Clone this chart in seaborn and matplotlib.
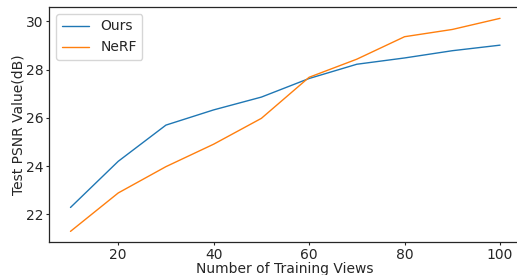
import matplotlib
matplotlib.use("Agg")
import matplotlib.pyplot as plt
import seaborn as sns
import pandas as pd

views = [10, 20, 30, 40, 50, 60, 70, 80, 90, 100]
ours = [22.29, 24.20, 25.70, 26.33, 26.86, 27.63, 28.22, 28.48, 28.78, 29.01]
nerf = [21.30, 22.89, 23.98, 24.91, 25.98, 27.68, 28.43, 29.36, 29.66, 30.12]
series_names = ["Ours", "NeRF"]
colors = ["#1f77b4", "#ff7f0e"]

df = pd.DataFrame({
    "views": views * 2,
    "psnr": ours + nerf,
    "method": [series_names[0]] * len(views) + [series_names[1]] * len(views),
})

sns.set_style("ticks")
plt.rcParams["font.family"] = ["DejaVu Sans"]

fs = 10
fig = plt.figure(figsize=(5.17, 2.75), dpi=100)
ax = fig.add_axes([49 / 517, 1 - 242 / 275, (521.5 - 49) / 517, (242 - 7) / 275])
sns.lineplot(data=df, x="views", y="psnr", hue="method", palette=colors,
             linewidth=1.0, ax=ax)
ax.set_xlabel("Number of Training Views", fontsize=fs, labelpad=0)
ax.set_ylabel("Test PSNR Value(dB)", fontsize=fs, labelpad=0.5)
ax.tick_params(labelsize=fs, length=2.5, width=0.8, pad=1.5, color="#262626")
for s in ax.spines.values():
    s.set_color("#262626")
    s.set_linewidth(0.9)
ax.set_xticks([20, 40, 60, 80, 100])
ax.set_yticks([22, 24, 26, 28, 30])
ax.set_xlim(5.5, 104.5)
ax.set_ylim(20.86, 30.59)
leg = ax.legend(loc="upper left", fontsize=fs, title=None, frameon=True)
fig.savefig("out.png", dpi=100)
